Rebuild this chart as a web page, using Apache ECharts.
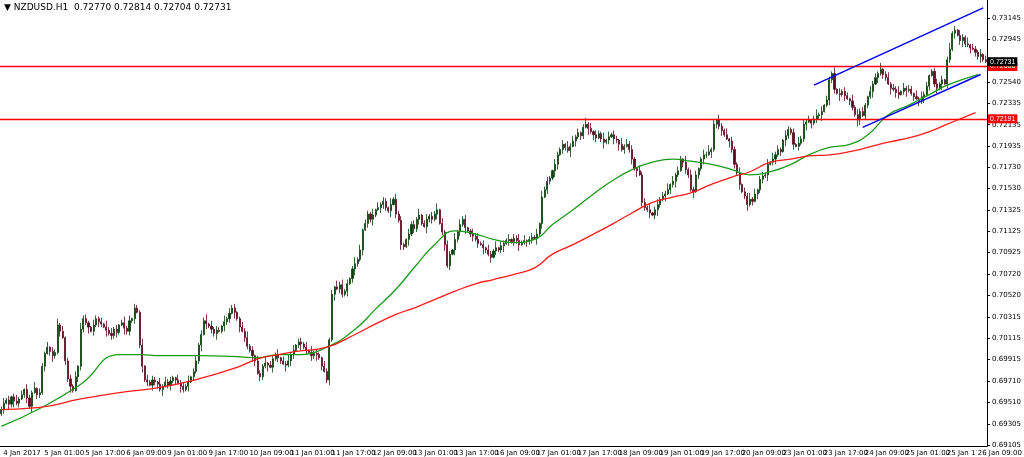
<!DOCTYPE html>
<html><head><meta charset="utf-8">
<script src="https://cdn.jsdelivr.net/npm/echarts@6/dist/echarts.min.js"></script>
<style>html,body{margin:0;padding:0;background:#fff}#c{width:1024px;height:457px}
#hdr{position:absolute;left:4px;top:2px;font:9px Tahoma,"DejaVu Sans",sans-serif;color:#000;z-index:5}</style>
</head><body><div id="hdr">▼ NZDUSD.H1&nbsp; 0.72770 0.72814 0.72704 0.72731</div><div id="c"></div>
<script>
const closes = [
.6944,.6950,.6953,.6949,.6956,.6952,.6950,.6954,.6958,.6963,.6955,.6947,.6960,.6964,.6958,.6960,.6985,.6997,.7003,.6999,.6995,.6998,.7024,
.7018,.7012,.6990,.6973,.6966,.6962,.6975,.6985,.7020,.7030,.7026,.7022,.7018,.7024,.7030,.7027,.7025,.7022,.7019,.7016,.7014,
.7020,.7017,.7024,.7026,.7021,.7018,.7028,.7030,.7040,.7036,.7005,.6985,.6972,.6970,.6967,.6972,.6970,.6968,.6963,.6966,.6970,
.6967,.6971,.6974,.6972,.6969,.6966,.6963,.6966,.6970,.6975,.6980,.6990,.7005,.7015,.7028,.7025,.7023,.7020,.7016,.7019,.7018,
.7023,.7027,.7030,.7035,.7040,.7036,.7030,.7022,.7018,.7012,.7004,.7000,.6995,.6990,.6978,.6975,.6985,.6988,.6986,.6984,.6992,
.6996,.6993,.6990,.6987,.6986,.6990,.6996,.7000,.7005,.7008,.7006,.7003,.7000,.6998,.6995,.6997,.6996,.6993,.6985,.6980,.6972,
.7010,.7053,.7060,.7058,.7062,.7053,.7056,.7063,.7068,.7077,.7082,.7086,.7095,.7114,.7120,.7129,.7124,.7128,.7133,.7135,
.7138,.7141,.7135,.7132,.7138,.7143,.7129,.7123,.7100,.7098,.7105,.7110,.7119,.7115,.7124,.7128,.7120,.7117,.7124,.7127,.7124,
.7129,.7133,.7120,.7112,.7100,.7080,.7091,.7095,.7105,.7112,.7119,.7124,.7116,.7113,.7110,.7108,.7105,.7101,.7100,.7097,.7095,
.7091,.7088,.7094,.7097,.7095,.7099,.7101,.7104,.7105,.7103,.7106,.7104,.7100,.7102,.7104,.7103,.7105,.7107,.7106,.7110,.7120,
.7145,.7152,.7160,.7163,.7170,.7176,.7185,.7190,.7195,.7192,.7189,.7193,.7198,.7202,.7206,.7203,.7211,.7214,.7210,.7207,.7204,.7201,.7205,
.7200,.7197,.7199,.7202,.7204,.7200,.7199,.7195,.7190,.7193,.7195,.7190,.7181,.7172,.7170,.7166,.7140,.7135,.7133,.7130,.7128,
.7133,.7138,.7143,.7146,.7148,.7152,.7157,.7160,.7166,.7170,.7181,.7178,.7171,.7166,.7152,.7150,.7166,.7172,.7181,.7185,.7185,.7188,.7190,
.7214,.7218,.7212,.7208,.7204,.7200,.7198,.7190,.7176,.7168,.7157,.7150,.7146,.7138,.7143,.7141,.7148,.7152,.7162,.7165,.7166,
.7176,.7178,.7181,.7185,.7190,.7188,.7199,.7203,.7209,.7206,.7195,.7193,.7196,.7200,.7214,.7216,.7218,.7215,.7219,.7222,.7223,.7226,.7232,
.7237,.7256,.7262,.7247,.7243,.7242,.7245,.7241,.7238,.7236,.7230,.7223,.7218,.7226,.7222,.7232,.7240,.7245,.7252,.7258,.7262,.7266,
.7261,.7258,.7252,.7248,.7247,.7244,.7242,.7245,.7248,.7246,.7247,.7243,.7240,.7238,.7236,.7240,.7242,.7250,.7260,.7264,.7252,.7248,.7252,
.7256,.7252,.7275,.7285,.7300,.7303,.7298,.7293,.7296,.7290,.7289,.7286,.7285,.7282,.7278,.7280,.7275,.7273
];
const wickUp = "3524136241532614325143625134251634215324163524136251432615243162534215342613524361524316253412536241532614325143625134251634215324163524136251432615243162534215342613524361524316253412536241532614325143625134251634215324163524136251432615243162534215342613524361524316253412536241532614325143625134251634215324163524136251432615243162534215342613524361524316253412";
const wickDn = "2415362413526143251463251436215432614253162435216342513624153426135241632514236152436125341625143265143261524316254136241536241352614325146325143621543261425316243521634251362415342613524163251423615243612534162514326514326152431625413624153624135261432514632514362154326142531624352163425136241534261352416325142361524361253416251432651432615243162541362";
const catLabels = ["4 Jan 2017","5 Jan 01:00","5 Jan 17:00","6 Jan 09:00","9 Jan 01:00","9 Jan 17:00","10 Jan 09:00","11 Jan 01:00","11 Jan 17:00","12 Jan 09:00","13 Jan 01:00","13 Jan 17:00","16 Jan 09:00","17 Jan 01:00","17 Jan 17:00","18 Jan 09:00","19 Jan 01:00","19 Jan 17:00","20 Jan 09:00","23 Jan 01:00","23 Jan 17:00","24 Jan 09:00","25 Jan 01:00","25 Jan 17:00","26 Jan 09:00"];
const yTicks = [0.69105,0.69305,0.69510,0.69710,0.69915,0.70115,0.70315,0.70520,0.70720,0.70925,0.71125,0.71325,0.71530,0.71730,0.71935,0.72135,0.72335,0.72540,0.72945,0.73145];
const maFast = [[0,.6928],[15,.6945],[31,.6968],[46,.6996],[54,.6996],[62,.6995],[77,.6995],[92,.6994],[100,.6993],[108,.6996],[115,.6996],[127,.7003],[138,.7020],[146,.7039],[154,.7058],[162,.7081],[169,.7100],[177,.7113],[185,.7110],[192,.7105],[200,.7102],[208,.7105],[215,.7119],[223,.7133],[231,.7148],[238,.7160],[246,.7171],[254,.7178],[262,.7181],[269,.7179],[277,.7176],[285,.7171],[292,.7166],[300,.7169],[308,.7176],[315,.7185],[323,.7192],[331,.7195],[338,.7204],[346,.7223],[354,.7232],[362,.7242],[369,.7251],[381,.7261]];
const maSlow = [[0,.6944],[15,.6946],[31,.6954],[46,.6960],[62,.6965],[77,.6973],[92,.6984],[100,.6992],[108,.6996],[115,.6999],[127,.7003],[138,.7015],[146,.7025],[154,.7034],[162,.7041],[169,.7048],[177,.7056],[185,.7063],[192,.7067],[200,.7072],[208,.7078],[215,.7091],[223,.7100],[231,.7110],[238,.7119],[246,.7130],[254,.7140],[262,.7145],[269,.7149],[277,.7157],[285,.7164],[292,.7169],[300,.7178],[308,.7181],[315,.7184],[323,.7185],[331,.7188],[338,.7192],[346,.7197],[354,.7201],[362,.7207],[369,.7214],[375,.7220],[380,.7225]];
const hLevels = [0.72686, 0.72191];
const lastPrice = 0.72731;
const chanUpper = [[317,0.7251],[383,0.7324]];
const chanLower = [[336,0.7211],[382,0.7261]];

const N = closes.length;
const cats = [];
for (let i=0;i<N;i++) cats.push(i%16===0 ? (catLabels[i/16]||'') : '');
const ohlc = closes.map((c,i)=>{
  const o = i===0 ? c-0.0004 : closes[i-1];
  const u = (+wickUp[i%wickUp.length])*0.0001, d=(+wickDn[i%wickDn.length])*0.0001;
  return [o, c, Math.min(o,c)-d, Math.max(o,c)+u];
});
const yMin = 0.69095, yMax = 0.73315;
const chart = echarts.init(document.getElementById('c'));
const font = 'Tahoma, "DejaVu Sans", sans-serif';
const lvlLabel = (v,bg)=>({show:true,position:'end',formatter:v.toFixed(5),backgroundColor:bg,color:'#fff',fontSize:7,padding:[1,2],distance:1});
chart.setOption({
  animation:false,
  grid:{left:0,right:31,top:0,bottom:10},
  xAxis:{type:'category',data:cats,boundaryGap:true,
    axisLine:{lineStyle:{color:'#000'}},
    axisTick:{interval:(i)=>i%16===0,length:3,lineStyle:{color:'#000'}},
    axisLabel:{interval:(i)=>i%16===0,fontSize:7,color:'#000',fontFamily:font,margin:4,align:'left',padding:[0,0,0,2]},
    splitLine:{show:false}},
  yAxis:{type:'value',position:'right',min:yMin,max:yMax,
    axisLine:{show:true,lineStyle:{color:'#000'}},
    axisTick:{show:true,customValues:yTicks,length:3,lineStyle:{color:'#000'}},
    axisLabel:{customValues:yTicks,fontSize:7,color:'#000',fontFamily:font,margin:5,formatter:v=>v.toFixed(5)},
    splitLine:{show:false}},
  graphic:[{type:'text',right:1,bottom:0,z:10,style:{text:catLabels[catLabels.length-1],font:'7px '+font,fill:'#000',backgroundColor:'#fff',padding:[0,1]}}],
  series:[
    {type:'candlestick',data:ohlc,barWidth:1.6,
      itemStyle:{color:'#0b3d0b',color0:'#5a0a20',borderColor:'#0b3d0b',borderColor0:'#5a0a20',borderWidth:0.8}},
    {type:'line',data:maFast,smooth:true,symbol:'none',lineStyle:{color:'#1a9a1a',width:1.3},z:3,
      markLine:{symbol:'none',silent:true,animation:false,precision:5,
        data:[
          {yAxis:hLevels[0],lineStyle:{color:'#ff0000',width:1.3,type:'solid'},label:lvlLabel(hLevels[0],'#ff0000')},
          {yAxis:hLevels[1],lineStyle:{color:'#ff0000',width:1.3,type:'solid'},label:lvlLabel(hLevels[1],'#ff0000')},
          [{coord:chanUpper[0]},{coord:chanUpper[1],lineStyle:{color:'#0000ff',width:1.5,type:'solid'}}],
          [{coord:chanLower[0]},{coord:chanLower[1],lineStyle:{color:'#0000ff',width:1.5,type:'solid'}}]
        ]}},
    {type:'line',data:maSlow,smooth:true,symbol:'none',lineStyle:{color:'#ff1a1a',width:1.3},z:3,
      markLine:{symbol:'none',silent:true,animation:false,precision:5,
        data:[{yAxis:lastPrice,lineStyle:{color:'rgba(0,0,0,0)',width:1},label:lvlLabel(lastPrice,'#000')}]}}
  ]
});
</script></body></html>
